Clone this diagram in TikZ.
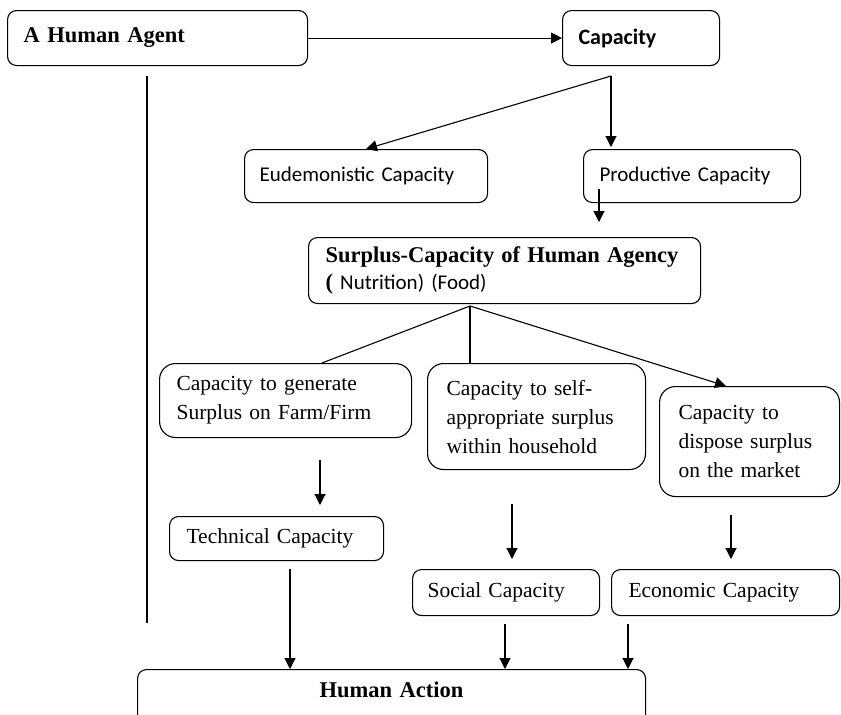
\documentclass[tikz,border=0pt]{standalone}
\usepackage{fontspec}
\setmainfont{Liberation Serif}
\newfontfamily\calibri{Carlito}
\usetikzlibrary{arrows.meta}

\tikzset{
  box/.style={draw, line width=1.1pt, rounded corners=9pt, anchor=north west,
    align=left, inner xsep=16pt, inner ysep=0pt,
    font=\fontsize{21.5}{29}\selectfont},
  tallbox/.style={box, rounded corners=16pt, inner xsep=19pt},
  arr/.style={-{Triangle[length=11pt,width=11pt]}, line width=1.1pt},
  link/.style={line width=1.1pt},
}
\newcommand{\serifbold}{\fontsize{22.5}{29}\selectfont\bfseries}
\newcommand{\sansplain}{\calibri\fontsize{21}{29}\selectfont}

\begin{document}
\begin{tikzpicture}[x=1pt,y=-1pt]
\clip (0,0) rectangle (841,715);
% top row
\node[box, text width=268pt, minimum height=55pt, font=\serifbold] (agent) at (7,10) {A Human Agent};
\node[box, text width=125pt, minimum height=55pt, font=\calibri\fontsize{22}{29}\selectfont\bfseries] (cap) at (562,10) {Capacity};
% kinds of capacity
\node[box, text width=213pt, minimum height=53pt, inner xsep=15pt, font=\sansplain] (eud) at (244,149) {Eudemonistic Capacity};
\node[box, text width=185pt, minimum height=53pt, font=\sansplain] (prod) at (583,149) {Productive Capacity};
\node[box, text width=358pt, minimum height=66pt, inner xsep=17pt] (surplus) at (308,237)
  {{\serifbold Surplus-Capacity of Human Agency}\\[-2pt]{\serifbold(}{\sansplain\ Nutrition) (Food)}};
% three capacities
\node[tallbox, text width=218pt, minimum height=74pt, inner xsep=17pt] (gen) at (159,363) {Capacity to generate\\Surplus on Farm/Firm};
\node[tallbox, text width=180pt, minimum height=106pt] (self) at (427,363) {Capacity to self-\\appropriate surplus\\within household};
\node[tallbox, text width=142pt, minimum height=110pt] (market) at (659,386) {Capacity to\\dispose surplus\\on the market};
% resulting capacities
\node[box, text width=180pt, minimum height=44pt, inner xsep=17pt] (tech) at (169,516) {Technical Capacity};
\node[box, text width=157pt, minimum height=46pt, inner xsep=15pt] (social) at (412,569) {Social Capacity};
\node[box, text width=194pt, minimum height=46pt, inner xsep=17pt] (econ) at (611,569) {Economic Capacity};
\node[box, text width=476pt, minimum height=70pt, text depth=30pt, align=center, font=\serifbold] (action) at (137,669) {Human Action};

% connector ends
\coordinate (agentdown) at (147,76);
\coordinate (agentend) at (147,623);
\coordinate (capfork) at (611,76);
\coordinate (prodout) at (599,189);
\coordinate (surplusin) at (599,222);
\coordinate (surfork) at (470,306);
\coordinate (genout) at (320,460);
\coordinate (techin) at (320,505);
\coordinate (techout) at (290,569);
\coordinate (selfout) at (512,504);
\coordinate (socialin) at (512,559);
\coordinate (marketout) at (731,515);
\coordinate (econin) at (731,559);
\coordinate (socialout) at (505,624);
\coordinate (econout) at (628,624);

% connectors
\draw[arr] (agent.east) -- (cap.west);
\draw[link] (agentdown) -- (agentend);
\draw[arr] (capfork) -- (eud.north);
\draw[arr] (capfork) -- ([yshift=2pt]prod.north -| capfork);
\draw[arr] (prodout) -- (surplusin);
\draw[link] (surfork) -- (gen.north -| 322,0);
\draw[link] (surfork) -- (self.north -| surfork);
\draw[arr] (surfork) -- (market.north -| 726,0);
\draw[arr] (genout) -- (techin);
\draw[arr] (techout) -- (action.north -| techout);
\draw[arr] (selfout) -- (socialin);
\draw[arr] (marketout) -- (econin);
\draw[arr] (socialout) -- (action.north -| socialout);
\draw[arr] (econout) -- (action.north -| econout);
\end{tikzpicture}
\end{document}
